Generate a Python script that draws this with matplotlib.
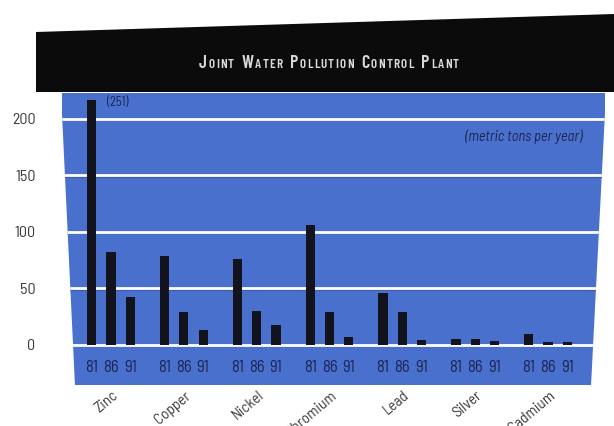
import matplotlib
matplotlib.use("Agg")
import matplotlib.pyplot as plt
import numpy as np
from matplotlib.patches import Polygon
from matplotlib.offsetbox import TextArea, HPacker, AnnotationBbox

# data (metric tons per year)
metals = ["Zinc", "Copper", "Nickel", "Chromium", "Lead", "Silver", "Cadmium"]
years = ["81", "86", "91"]
tons_81 = [251, 78, 76, 106, 46, 4.5, 9]
tons_86 = [82, 29, 30, 29, 29, 4.5, 2]
tons_91 = [42, 13, 17, 7, 4, 3, 2]
y_ticks = [0, 50, 100, 150, 200]
title_words = ["JOINT", "WATER", "POLLUTION", "CONTROL", "PLANT"]

BLUE = "#4a70ce"
NAVY = "#1c2550"
BAR = "#12131c"
GREY = "#3a3a3a"
FONT = ["Barlow Semi Condensed", "Asap Condensed", "Liberation Sans Narrow", "DejaVu Sans"]
TFONT = ["Barlow Condensed", "Liberation Sans Narrow", "DejaVu Sans"]
W, H = 614, 426
CAP = 216  # tallest bar is cut off at the top of the panel

fig = plt.figure(figsize=(6.14, 4.26), dpi=100)
fig.patch.set_facecolor("white")

def px(x, y):
    return (x / W, 1 - y / H)

# black title banner (slightly skewed like the scan)
banner = Polygon([px(36, 32), px(614, 14), px(614, 92), px(36, 92)],
                 closed=True, transform=fig.transFigure, facecolor="#0b0b0b",
                 edgecolor="none", zorder=0)
fig.add_artist(banner)

ax = fig.add_axes([62 / W, 1 - 385 / H, 543 / W, 292 / H])
ax.set_facecolor("none")
for s in ax.spines.values():
    s.set_visible(False)

panel = Polygon([px(61, 93), px(606, 93), px(591, 386), px(75, 386)],
                closed=True, transform=fig.transFigure, facecolor=BLUE,
                edgecolor="none", zorder=0)
ax.add_patch(panel)

group_gap = 3.774
centers = np.arange(len(metals)) * group_gap
series = [tons_81, tons_86, tons_91]
width = 0.48

for k, vals in enumerate(series):
    xs = centers + (k - 1)
    hs = [min(v, CAP) for v in vals]
    ax.bar(xs, hs, width=width, color=BAR, zorder=3)
    for x in xs:
        ax.text(x, -20.5, years[k], ha="center", va="center", fontsize=12,
                color=NAVY, family=FONT, zorder=4)

for yv in y_ticks:
    ln = ax.axhline(yv, color="white", lw=2.0, zorder=2)
    ln.set_clip_path(panel)
    sh = ax.axhline(yv - 1.6, color="#3b5cb4", lw=0.8, zorder=1.9)
    sh.set_clip_path(panel)

ax.set_xlim(-2.54, 6 * group_gap + 2.95)
ax.set_ylim(-35.8, 222.6)
ax.set_xticks([])
ax.set_yticks(y_ticks)
ax.set_yticklabels([str(v) for v in y_ticks], family=FONT, fontsize=11.5,
                   color=GREY)
ax.tick_params(axis="y", length=0, pad=19)

ax.text(centers[0] - 0.21, 214, "(251)", ha="left", va="center", fontsize=9,
        color=NAVY, family=FONT, zorder=4)
ax.text(24.4, 184, "(metric tons per year)", ha="right", va="center",
        fontsize=10.5, style="italic", color=NAVY, family=FONT, zorder=4)

for c, name in zip(centers, metals):
    ax.text(c + 0.5, -0.012, name, transform=ax.get_xaxis_transform(),
            rotation=40, ha="right", va="top", fontsize=11, color=GREY,
            family=FONT, clip_on=False)

# small-caps title, letter-spaced
words = []
for w in title_words:
    letters = [TextArea(w[0], textprops=dict(fontsize=13, color="#d9d9d9",
                                             family=TFONT, weight="semibold"))]
    for ch in w[1:]:
        letters.append(TextArea(ch, textprops=dict(fontsize=9.5, color="#d9d9d9",
                                                   family=TFONT, weight="semibold")))
    words.append(HPacker(children=letters, sep=0.9, pad=0, align="baseline"))
title = HPacker(children=words, sep=5.5, pad=0, align="baseline")
ab = AnnotationBbox(title, px(329, 63), xycoords="figure fraction",
                    frameon=False, box_alignment=(0.5, 0.5),
                    annotation_clip=False)
fig.add_artist(ab)

fig.savefig("out.png", dpi=100, facecolor="white")
